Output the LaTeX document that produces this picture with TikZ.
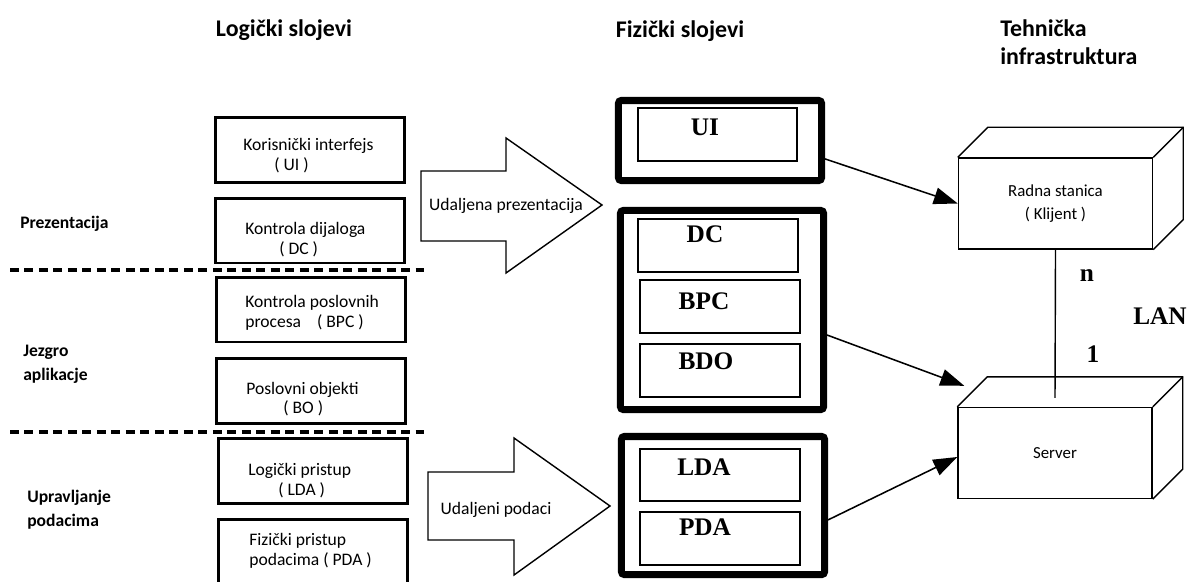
\documentclass[tikz,border=0pt]{standalone}
\usepackage{fontspec}
\setmainfont{Carlito}
\newfontfamily\tnr{Liberation Serif}
\usetikzlibrary{arrows.meta}

\tikzset{
  naslov/.style={font=\fontsize{17}{20}\selectfont\bfseries, align=left},
  sloj/.style={font=\fontsize{12.5}{17}\selectfont\bfseries, anchor=west, align=left, inner sep=0pt},
  lbox/.style={draw, line width=2pt, minimum width=4.73cm, minimum height=1.62cm, inner sep=0pt},
  ltext/.style={font=\fontsize{12.5}{14}\selectfont, anchor=west, align=left, inner sep=0pt},
  fbox/.style={draw, line width=5pt, rounded corners=2pt, minimum width=5.075cm, inner sep=0pt},
  ibox/.style={draw, line width=1.4pt, minimum width=3.98cm, minimum height=1.32cm, inner sep=0pt},
  ftext/.style={font=\fontsize{18}{20}\selectfont\tnr\bfseries, inner sep=0pt},
  strelica/.style={draw, line width=1pt, line join=miter},
  kocka/.style={draw, line width=1pt, minimum width=4.85cm, minimum height=2.275cm, align=center, inner sep=0pt, font=\fontsize{12}{16}\selectfont},
  veza/.style={line width=1.1pt, -{Triangle[length=17pt,width=12pt]}},
  granica/.style={line width=2.8pt, dash pattern=on 6.4pt off 3.9pt},
}

\begin{document}
\begin{tikzpicture}[x=0.025cm, y=-0.025cm]
    \useasboundingbox (0,0) rectangle (1188,581);

    % Naslovi
    \node[naslov] (hlog) at (284,30) {Logički slojevi};
    \node[naslov] (hfiz) at (680,31) {Fizički slojevi};
    \node[naslov, anchor=west, inner sep=0pt] (hteh) at (1000,42) {Tehnička\\infrastruktura};

    % Slojevi lijevo
    \node[sloj] (prez) at (20,224) {Prezentacija};
    \node[sloj] (jezgro) at (23,364) {Jezgro\\aplikacje};
    \node[sloj] (podaci) at (27,510) {Upravljanje\\podacima};
    \draw[granica] (10,270) -- (424,270);
    \draw[granica] (10,432) -- (424,432);

    % Logički slojevi
    \node[lbox] (lui) at (310,150) {};
    \node[lbox] (ldc) at (310,230.5) {};
    \node[lbox] (lbpc) at (311,309.5) {};
    \node[lbox] (lbo) at (311,391) {};
    \node[lbox] (llda) at (313,471) {};
    \node[lbox] (lpda) at (313,552) {};
    \node[ltext] (tui) at (243,155.5) {Korisnički interfejs\\\hspace*{0.775cm}( UI )};
    \node[ltext] (tdc) at (245,239.5) {Kontrola dijaloga\\\hspace*{0.85cm}( DC )};
    \node[ltext] (tbpc) at (245,313) {Kontrola poslovnih\\procesa\hspace*{0.4cm}( BPC )};
    \node[ltext] (tbo) at (246,399) {Poslovni objekti\\\hspace*{0.925cm}( BO )};
    \node[ltext] (tlda) at (248,480.5) {Logički pristup\\\hspace*{0.75cm}( LDA )};
    \node[ltext] (tpda) at (249,551) {Fizički pristup\\podacima ( PDA )};

    % Velike strelice
    \draw[strelica] (421,171) -- (506,171) -- (506,138) -- (602,205) -- (506,273) -- (506,241) -- (421,241) -- cycle;
    \node[ltext, anchor=center] (udprez) at (506,206) {Udaljena prezentacija};
    \draw[strelica] (428,472) -- (514,472) -- (514,438) -- (610,506) -- (514,575) -- (514,540) -- (428,540) -- cycle;
    \node[ltext, anchor=center] (udpod) at (496,510) {Udaljeni podaci};

    % Fizički slojevi
    \node[fbox, minimum height=2cm] (fui) at (720,140.5) {};
    \node[fbox, minimum height=4.975cm] (fbus) at (722,310) {};
    \node[fbox, minimum height=3.45cm] (fdat) at (723,505.5) {};
    \node[ibox] (iui) at (717.5,134.5) {};
    \node[ibox] (idc) at (718,245.5) {};
    \node[ibox] (ibpc) at (720,306.5) {};
    \node[ibox] (ibdo) at (720,370.5) {};
    \node[ibox] (ilda) at (720,475) {};
    \node[ibox] (ipda) at (720,538.5) {};
    \node[ftext] (nui) at (705,127) {UI};
    \node[ftext] (ndc) at (705,234) {DC};
    \node[ftext] (nbpc) at (704,301) {BPC};
    \node[ftext] (nbdo) at (706,361) {BDO};
    \node[ftext] (nlda) at (704,467) {LDA};
    \node[ftext] (npda) at (705,527) {PDA};

    % Tehnička infrastruktura
    \node[kocka] (klijent) at (1055.5,203.5) {Radna stanica\\( Klijent )};
    \draw[line width=1pt] (klijent.north west) -- ([shift={(30,-30)}]klijent.north west)
        -- ([shift={(30,-30)}]klijent.north east) -- ([shift={(30,-30)}]klijent.south east)
        -- (klijent.south east);
    \draw[line width=1pt] (klijent.north east) -- ([shift={(30,-30)}]klijent.north east);
    \node[kocka] (server) at (1055,453) {Server};
    \draw[line width=1pt] (server.north west) -- ([shift={(30,-30)}]server.north west)
        -- ([shift={(30,-30)}]server.north east) -- ([shift={(30,-30)}]server.south east)
        -- (server.south east);
    \draw[line width=1pt] (server.north east) -- ([shift={(30,-30)}]server.north east);
    \draw[line width=1pt] (klijent.south) -- ([yshift=0.225cm]server.north);
    \node[ftext] (n) at (1087,276) {n};
    \node[ftext] (jedan) at (1093,354) {1};
    \node[ftext] (lan) at (1160,316) {LAN};

    % Veze
    \draw[veza] ([yshift=-0.46cm]fui.east) -- (klijent.west);
    \draw[veza] ([yshift=-0.625cm]fbus.east) -- ([shift={(7,-21)}]server.north west);
    \draw[veza] ([yshift=-0.36cm]fdat.east) -- ([yshift=-0.1cm]server.west);
\end{tikzpicture}
\end{document}
